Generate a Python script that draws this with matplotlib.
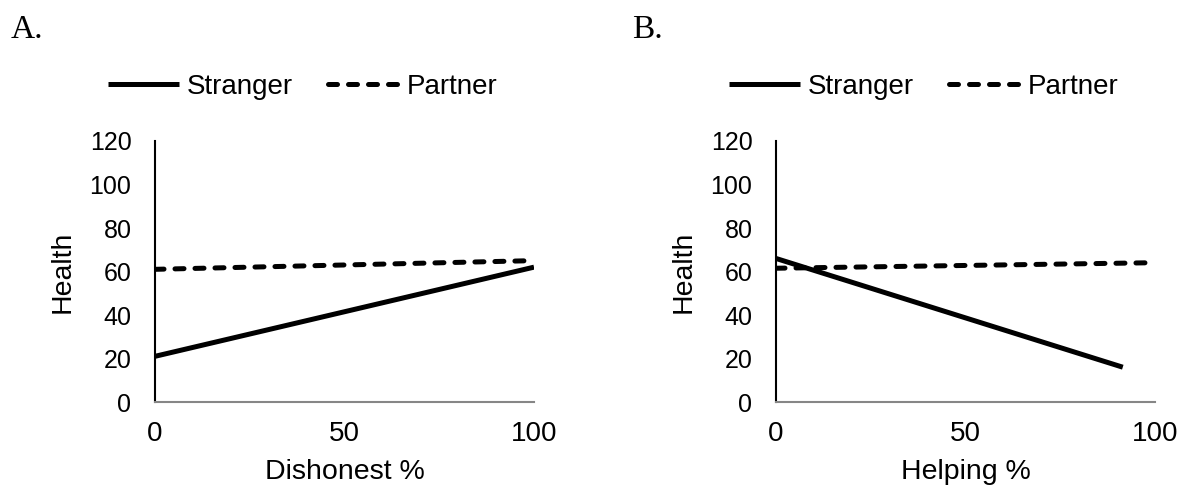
import matplotlib
matplotlib.use('Agg')
import matplotlib.pyplot as plt

plt.rcParams['font.family'] = ['Liberation Sans', 'DejaVu Sans']

# data (end points of the fitted lines)
dishonest_x = [0, 100]
dishonest_stranger = [21, 62]
dishonest_partner = [61, 65]

helping_x_stranger = [0, 91.5]
helping_stranger = [66, 16]
helping_x_partner = [0, 98]
helping_partner = [61.5, 64]

x_ticks = [0, 50, 100]
y_ticks = [0, 20, 40, 60, 80, 100, 120]

W, H = 1181, 494
fig = plt.figure(figsize=(W / 100, H / 100), dpi=100)

# left pixel of the axis, panel tag, x label, data
panels = [
    (155, 'A.', 'Dishonest %', dishonest_x, dishonest_stranger, dishonest_x, dishonest_partner),
    (776, 'B.', 'Helping %', helping_x_stranger, helping_stranger, helping_x_partner, helping_partner),
]

for left, tag, xlab, xs, ys, xp, yp in panels:
    ax = fig.add_axes([left / W, 1 - 402 / H, 379 / W, (402 - 141) / H])
    ax.plot(xs, ys, color='black', lw=3.6, solid_capstyle='butt', label='Stranger')
    ax.plot(xp, yp, color='black', lw=3.6, dashes=(1.8, 2.2), dash_capstyle='round', label='Partner')

    ax.set_xlim(0, 100)
    ax.set_ylim(0, 120)
    ax.set_xticks(x_ticks)
    ax.set_yticks(y_ticks)
    ax.tick_params(axis='x', length=0, labelsize=20, pad=14)
    ax.tick_params(axis='y', length=0, labelsize=18, pad=17)

    for s in ['top', 'right']:
        ax.spines[s].set_visible(False)
    ax.spines['left'].set_color('black')
    ax.spines['left'].set_linewidth(1.5)
    ax.spines['bottom'].set_color('#868686')
    ax.spines['bottom'].set_linewidth(1.5)

    ax.set_xlabel(xlab, fontsize=20.5, labelpad=8)
    ax.set_ylabel('Health', fontsize=20.5, labelpad=10)

    ax.legend(loc='center left', bbox_to_anchor=((left - 47) / W, 1 - 87 / H),
              bbox_transform=fig.transFigure, ncol=2, frameon=False,
              fontsize=20, handlelength=2.55, handletextpad=0.29, columnspacing=1.26,
              borderaxespad=0, borderpad=0)

    fig.text((left - 144) / W, 1 - 38 / H, tag, fontsize=24,
             family=['Liberation Serif'], va='baseline')

fig.savefig('out.png', dpi=100)
